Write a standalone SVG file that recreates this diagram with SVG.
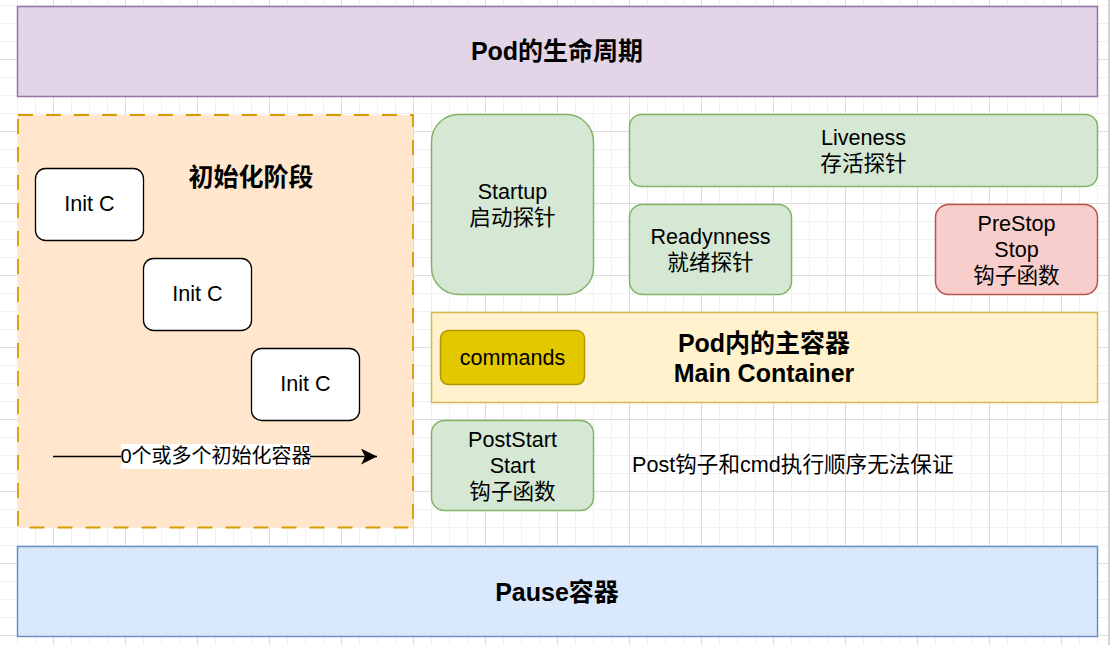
<svg xmlns="http://www.w3.org/2000/svg" width="1119" height="645" viewBox="0 0 1119 645">
<defs>
<pattern id="gMinor" x="17" y="5" width="18" height="18" patternUnits="userSpaceOnUse"><rect x="0" y="0" width="1" height="18" fill="#f0f0f0"/><rect x="0" y="0" width="18" height="1" fill="#f0f0f0"/></pattern>
<pattern id="gMajor" x="53" y="59" width="72" height="72" patternUnits="userSpaceOnUse"><rect x="0" y="0" width="1" height="72" fill="#dcdcdc"/><rect x="0" y="0" width="72" height="1" fill="#dcdcdc"/></pattern>
<marker id="arrow" viewBox="0 0 16 16" refX="16" refY="8" markerWidth="16" markerHeight="16" markerUnits="userSpaceOnUse" orient="auto"><path d="M0,0 L16,8 L0,16 L4,8 Z" fill="#000"/></marker>
</defs>
<style>
text{font-family:"Liberation Sans","Noto Sans CJK SC",sans-serif;fill:#000;text-anchor:middle;dominant-baseline:central}
.n{font-size:21.6px}
.b{font-size:25px;font-weight:bold}
.s{font-size:20px}
.init{fill:#fff;stroke:#000;stroke-width:1.3}
.green{fill:#d5e8d4;stroke:#82b366;stroke-width:1.5}
</style>
<rect x="0" y="0" width="1119" height="645" fill="#fff"/>
<rect x="0" y="0" width="1108" height="645" fill="url(#gMinor)"/>
<rect x="0" y="0" width="1108" height="645" fill="url(#gMajor)"/>
<rect x="1108" y="0" width="2" height="645" fill="#d4d4d4"/>

<g id="pod-lifecycle">
<rect x="17.5" y="6.5" width="1080" height="90" fill="#e1d5e7" stroke="#9673a6" stroke-width="1.5"/>
<text class="b" x="557" y="51">Pod的生命周期</text>
</g>

<g id="init-phase">
<rect x="18" y="115" width="395" height="412.5" fill="#ffe6cc" stroke="#d79b00" stroke-width="1.8" stroke-dasharray="15 13"/>
<text class="b" x="251" y="177">初始化阶段</text>
</g>

<g id="init-c-1">
<rect class="init" x="35.5" y="168.5" width="108" height="72" rx="10"/>
<text class="n" x="89.5" y="203">Init C</text>
</g>
<g id="init-c-2">
<rect class="init" x="143.5" y="258.5" width="108" height="72" rx="10"/>
<text class="n" x="197.5" y="293">Init C</text>
</g>
<g id="init-c-3">
<rect class="init" x="251.5" y="348.5" width="108" height="72" rx="10"/>
<text class="n" x="305.5" y="383">Init C</text>
</g>

<g id="connectors">
<line x1="53" y1="456.5" x2="377" y2="456.5" stroke="#000" stroke-width="1.3" marker-end="url(#arrow)"/>
<rect x="121" y="444" width="189" height="25" fill="#fff"/>
<text class="s" x="216" y="456">0个或多个初始化容器</text>
</g>

<g id="startup">
<rect class="green" x="431.5" y="114.5" width="162" height="180" rx="27"/>
<text class="n" x="512.5" y="191">Startup</text>
<text class="n" x="512.5" y="217">启动探针</text>
</g>

<g id="liveness">
<rect class="green" x="629.5" y="114.5" width="468" height="72" rx="12"/>
<text class="n" x="863.5" y="137">Liveness</text>
<text class="n" x="863.5" y="163">存活探针</text>
</g>

<g id="readiness">
<rect class="green" x="629.5" y="204.5" width="162" height="90" rx="13"/>
<text class="n" x="710.5" y="236">Readynness</text>
<text class="n" x="710.5" y="262">就绪探针</text>
</g>

<g id="prestop">
<rect x="935.5" y="204.5" width="162" height="90" rx="13" fill="#f8cecc" stroke="#b85450" stroke-width="1.5"/>
<text class="n" x="1016.5" y="223">PreStop</text>
<text class="n" x="1016.5" y="249">Stop</text>
<text class="n" x="1016.5" y="275">钩子函数</text>
</g>

<g id="main-container">
<rect x="431.5" y="312.5" width="666" height="90" fill="#fff2cc" stroke="#d6b656" stroke-width="1.5"/>
<text class="b" x="764" y="343">Pod内的主容器</text>
<text class="b" x="764" y="373">Main Container</text>
</g>

<g id="commands">
<rect x="440.5" y="330.5" width="144" height="54" rx="8" fill="#e3c800" stroke="#b09500" stroke-width="1.5"/>
<text class="n" x="512.5" y="357">commands</text>
</g>

<g id="poststart">
<rect class="green" x="431.5" y="420.5" width="162" height="90" rx="13"/>
<text class="n" x="512.5" y="439">PostStart</text>
<text class="n" x="512.5" y="465">Start</text>
<text class="n" x="512.5" y="491">钩子函数</text>
</g>

<g id="post-note">
<text class="n" x="632" y="464" style="text-anchor:start">Post钩子和cmd执行顺序无法保证</text>
</g>

<g id="pause">
<rect x="17.5" y="546.5" width="1080" height="90" fill="#dae8fc" stroke="#6c8ebf" stroke-width="1.5"/>
<text class="b" x="557" y="592">Pause容器</text>
</g>
</svg>
